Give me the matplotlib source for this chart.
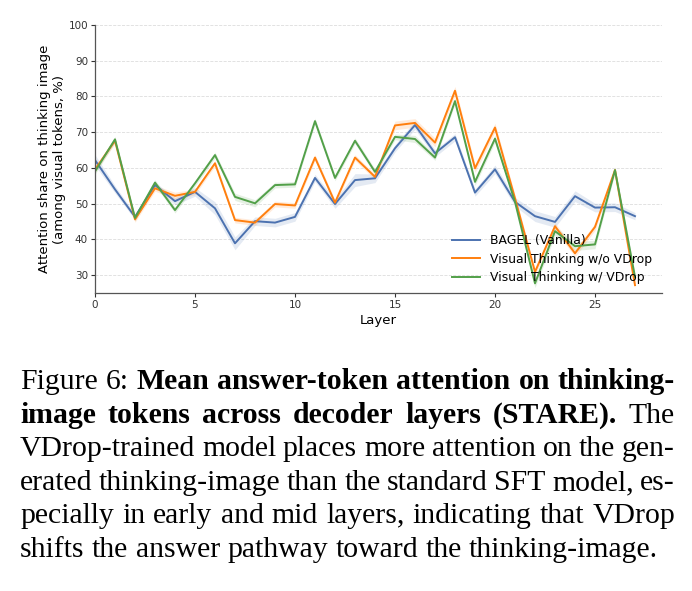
import matplotlib
matplotlib.use("Agg")
import matplotlib.pyplot as plt
import numpy as np

W, H, DPI = 692, 591, 100

layers = np.arange(28)
bagel = [62.2, 54.0, 46.3, 55.2, 50.7, 53.3, 48.7, 38.9, 45.1, 44.7,
         46.3, 57.2, 49.9, 56.6, 57.1, 65.5, 72.0, 64.1, 68.6, 53.1,
         59.6, 50.5, 46.5, 44.9, 52.1, 48.9, 49.0, 46.5]
no_vdrop = [59.6, 67.6, 45.6, 54.3, 52.2, 53.3, 61.3, 45.4, 44.7, 49.9,
            49.5, 62.9, 50.3, 62.9, 57.5, 71.9, 72.6, 67.1, 81.6, 59.9,
            71.3, 51.5, 30.9, 43.7, 36.1, 43.5, 59.4, 27.2]
vdrop = [59.0, 68.0, 46.0, 55.9, 48.2, 55.7, 63.6, 51.9, 50.1, 55.2,
         55.4, 73.1, 57.2, 67.6, 58.9, 68.7, 68.1, 62.9, 78.7, 56.1,
         68.2, 50.5, 27.7, 42.3, 38.1, 38.6, 59.4, 29.5]
bagel_sd = [1.5, 1.0, 0.8, 0.8, 1.0, 1.2, 1.8, 1.8, 1.2, 1.2,
            1.2, 1.0, 1.2, 1.8, 1.2, 1.0, 1.2, 1.0, 1.0, 1.0,
            1.2, 1.2, 1.5, 1.5, 1.5, 1.2, 1.2, 1.0]
no_vdrop_sd = [0.8, 0.8, 0.8, 0.8, 1.0, 0.8, 0.8, 0.8, 0.8, 0.8,
               0.8, 0.8, 0.8, 0.8, 0.8, 1.2, 1.2, 1.2, 1.2, 1.2,
               1.2, 1.0, 1.0, 1.0, 1.0, 1.0, 0.8, 0.8]
vdrop_sd = [0.8, 0.8, 0.8, 0.8, 0.8, 0.8, 0.8, 1.0, 1.0, 0.8,
            0.8, 0.8, 0.8, 0.8, 0.8, 0.8, 1.0, 0.8, 0.8, 1.0,
            1.0, 1.0, 1.2, 1.2, 1.2, 1.2, 0.8, 0.8]
series = [("BAGEL (Vanilla)", bagel, bagel_sd, "#4C72B0"),
          ("Visual Thinking w/o VDrop", no_vdrop, no_vdrop_sd, "#FF7F0E"),
          ("Visual Thinking w/ VDrop", vdrop, vdrop_sd, "#52A049")]

fig = plt.figure(figsize=(W / DPI, H / DPI), dpi=DPI)
ax = fig.add_axes([95 / W, 1 - 293 / H, (662 - 95) / W, (293 - 25) / H])

for name, y, sd, c in series:
    y = np.array(y); sd = np.array(sd)
    ax.fill_between(layers, y - sd, y + sd, color=c, alpha=0.15, lw=0)
    ax.plot(layers, y, color=c, lw=1.4, label=name)

ax.set_xlim(0, 28.35)
ax.set_ylim(25, 100)
ax.set_yticks(range(30, 101, 10))
ax.set_xticks(range(0, 26, 5))
ax.tick_params(labelsize=7.5, length=3, width=0.8, colors="#333333", pad=2)
ax.yaxis.grid(True, ls="--", lw=0.6, color="#dddddd")
ax.set_axisbelow(True)
for s in ["top", "right"]:
    ax.spines[s].set_visible(False)
for s in ["left", "bottom"]:
    ax.spines[s].set_color("#555555")
    ax.spines[s].set_linewidth(0.9)
ax.set_xlabel("Layer", fontsize=9.5, labelpad=3)
ax.set_ylabel("Attention share on thinking image\n(among visual tokens, %)", fontsize=9.5, labelpad=2)
ax.legend(loc="lower right", bbox_to_anchor=(0.997, 0.0), frameon=False, fontsize=8.9,
          labelspacing=0.45, handlelength=2.2, handletextpad=0.8, borderaxespad=0.3)

# caption, justified like the LaTeX source
FS = 21.4
X0, X1 = 20, 675
lines = [
    ([("Figure", 0), ("6:", 0), ("Mean", 1), ("answer-token", 1), ("attention", 1), ("on", 1), ("thinking-", 1)], 389, True),
    ([("image", 1), ("tokens", 1), ("across", 1), ("decoder", 1), ("layers", 1), ("(STARE).", 1), ("The", 0)], 423, True),
    ([("VDrop-trained", 0), ("model", 0), ("places", 0), ("more", 0), ("attention", 0), ("on", 0), ("the", 0), ("gen-", 0)], 456, True),
    ([("erated", 0), ("thinking-image", 0), ("than", 0), ("the", 0), ("standard", 0), ("SFT", 0), ("model,", 0), ("es-", 0)], 490, True),
    ([("pecially", 0), ("in", 0), ("early", 0), ("and", 0), ("mid", 0), ("layers,", 0), ("indicating", 0), ("that", 0), ("VDrop", 0)], 523, True),
    ([("shifts", 0), ("the", 0), ("answer", 0), ("pathway", 0), ("toward", 0), ("the", 0), ("thinking-image.", 0)], 557, False),
]
r = fig.canvas.get_renderer()
for words, yb, just in lines:
    ts = [fig.text(0, 1 - yb / H, w, fontsize=FS, family="Liberation Serif",
                   fontweight="bold" if b else "normal", va="baseline", ha="left")
          for w, b in words]
    wd = [t.get_window_extent(r).width for t in ts]
    gap = (X1 - X0 - sum(wd)) / (len(ts) - 1) if just else FS * DPI / 72 * 0.25
    x = X0
    for t, w in zip(ts, wd):
        t.set_x(x / W)
        x += w + gap

fig.savefig("out.png", dpi=DPI, facecolor="white")
